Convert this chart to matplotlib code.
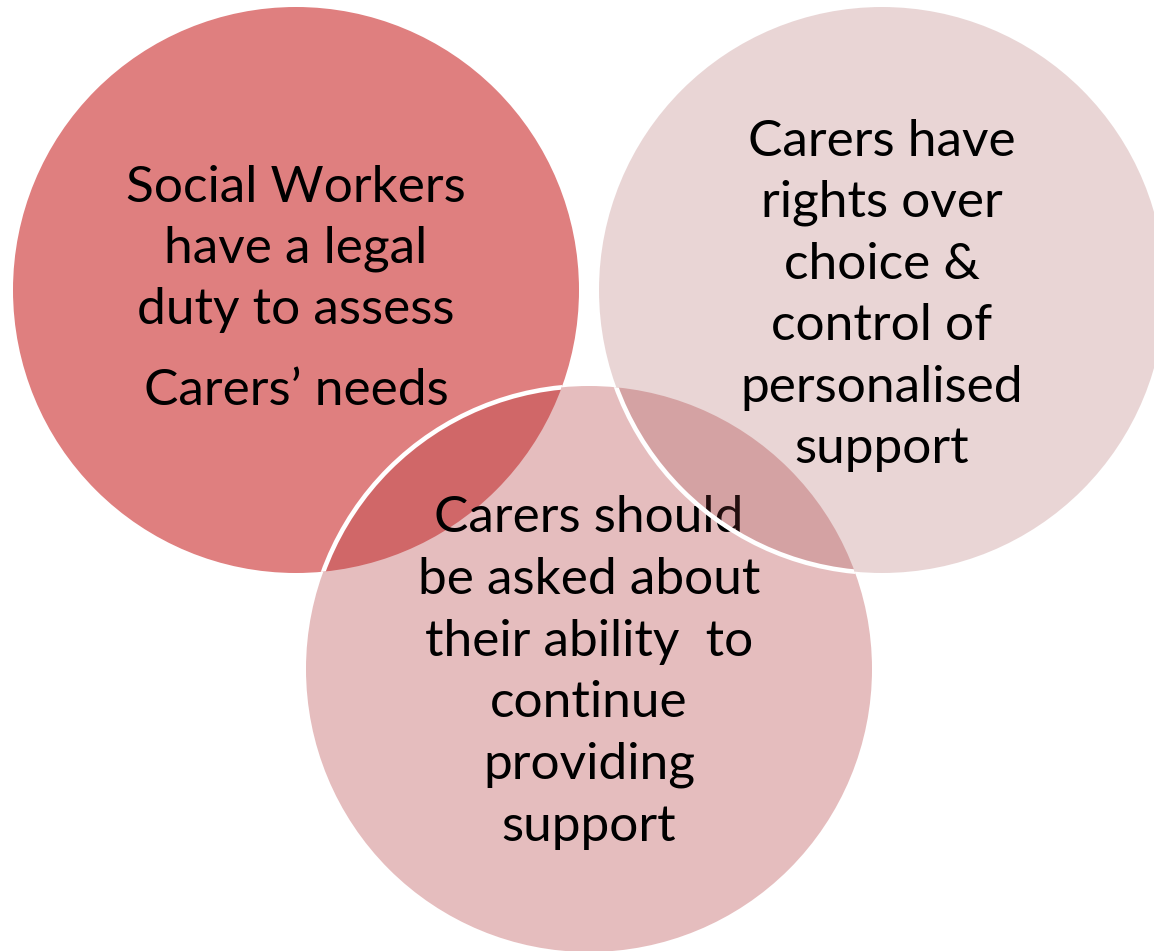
import matplotlib
matplotlib.use("Agg")
import matplotlib.pyplot as plt
from matplotlib.patches import Circle

# ---- content ----
labels_left = ["Social Workers", "have a legal", "duty to assess", "Carers\u2019 needs"]
labels_right = ["Carers have", "rights over", "choice &", "control of", "personalised", "support"]
labels_bottom = ["Carers should", "be asked about", "their ability  to", "continue", "providing", "support"]

W, H = 1154, 951
fig = plt.figure(figsize=(W / 100, H / 100), dpi=100)
ax = fig.add_axes([0, 0, 1, 1])
ax.set_xlim(0, W)
ax.set_ylim(H, 0)
ax.set_aspect("equal")
ax.axis("off")

R = 283
c_left = (296, 290)
c_right = (882, 290)
c_bottom = (589, 669)

FONT = "Lato"
renderer = fig.canvas.get_renderer()
t = ax.text(0, 0, labels_left[0], fontsize=30, family=FONT)
w = t.get_window_extent(renderer).width
t.remove()
fs = 30 * 340 / w

# left circle (opaque)
left = Circle(c_left, R, facecolor="#DF7F7F", edgecolor="none", zorder=1)
ax.add_patch(left)
for s, yb in zip(labels_left, [202, 263, 324, 405]):
    ax.text(c_left[0], yb, s, ha="center", va="baseline", fontsize=fs, family=FONT, zorder=2)

# bottom circle (semi-transparent)
bottom = Circle(c_bottom, R, facecolor=(179/255, 55/255, 58/255), alpha=0.33, edgecolor="none", zorder=3)
ax.add_patch(bottom)
bedge = Circle(c_bottom, R, facecolor="none", edgecolor="white", lw=3.3, zorder=3.5)
ax.add_patch(bedge)
bedge.set_clip_path(Circle(c_left, R, transform=ax.transData))
for s, yb in zip(labels_bottom, [532, 594, 656, 717, 779, 841]):
    ax.text(c_bottom[0], yb, s, ha="center", va="baseline", fontsize=fs, family=FONT, zorder=4)

# right circle (semi-transparent)
right = Circle(c_right, R, facecolor=(155/255, 68/255, 68/255), alpha=0.22, edgecolor="none", zorder=5)
ax.add_patch(right)
redge = Circle(c_right, R, facecolor="none", edgecolor="white", lw=3.3, zorder=5.5)
ax.add_patch(redge)
redge.set_clip_path(Circle(c_bottom, R, transform=ax.transData))
for s, yb in zip(labels_right, [156, 217, 279, 340, 402, 463]):
    ax.text(c_right[0], yb, s, ha="center", va="baseline", fontsize=fs, family=FONT, zorder=6)

fig.savefig("out.png", dpi=100, facecolor="white")
